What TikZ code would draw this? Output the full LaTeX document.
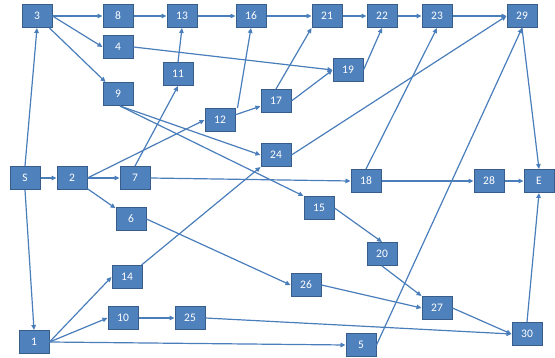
\documentclass[tikz,border=0pt]{standalone}
\usepackage{fontspec}
\setmainfont{Carlito}
\usetikzlibrary{arrows.meta}
\definecolor{boxfill}{HTML}{4F81BD}
\definecolor{boxline}{HTML}{385D8A}
\definecolor{edgecol}{HTML}{4A7EBB}
\begin{document}
\begin{tikzpicture}[x=1pt,y=-1pt,
  nb/.style={draw=boxline,line width=1pt,fill=boxfill,text=white,minimum width=30pt,minimum height=23pt,inner sep=0pt,font=\fontsize{11.5}{13}\selectfont},
  ar/.style={draw=edgecol,line width=1.2pt,-{Triangle[length=5pt,width=4.5pt]}}]
\useasboundingbox (0,0) rectangle (555,358);
\node[nb] (n3) at (37,16) {3};
\node[nb] (n8) at (118,16) {8};
\node[nb] (n13) at (182,16) {13};
\node[nb] (n16) at (251,16) {16};
\node[nb] (n21) at (327,16) {21};
\node[nb] (n22) at (382,16) {22};
\node[nb] (n23) at (437,16) {23};
\node[nb] (n29) at (522,16) {29};
\node[nb] (n4) at (118,47) {4};
\node[nb] (n11) at (178,74) {11};
\node[nb] (n19) at (348,70) {19};
\node[nb] (n9) at (118,94) {9};
\node[nb] (n17) at (276,101) {17};
\node[nb] (n12) at (220,120) {12};
\node[nb] (n24) at (276,155) {24};
\node[nb] (nS) at (25,178) {S};
\node[nb] (n2) at (72,178) {2};
\node[nb] (n7) at (135,178) {7};
\node[nb] (n18) at (366,181) {18};
\node[nb] (n28) at (489,181) {28};
\node[nb] (nE) at (539,181) {E};
\node[nb] (n15) at (319,208) {15};
\node[nb] (n6) at (131,219) {6};
\node[nb] (n20) at (382,254) {20};
\node[nb] (n14) at (127,277) {14};
\node[nb] (n26) at (306,285) {26};
\node[nb] (n27) at (437,308) {27};
\node[nb] (n10) at (123,318) {10};
\node[nb] (n25) at (190,318) {25};
\node[nb] (n30) at (527,334) {30};
\node[nb] (n1) at (34,342) {1};
\node[nb] (n5) at (361,345) {5};
% top chain
\draw[ar] (n3) -- (n8);
\draw[ar] (n8) -- (n13);
\draw[ar] (n13) -- (n16);
\draw[ar] (n16) -- (n21);
\draw[ar] (n21) -- (n22);
\draw[ar] (n22) -- (n23);
\draw[ar] (n23) -- (n29);
\draw[ar] (n29.south) -- (nE.north);
\draw[ar] (n3.east) -- (n4.west);
\draw[ar] (n3) -- (n9);
\draw[ar] (nS.north) -- (n3.south);
\draw[ar] (n4.east) -- (n19.west);
\draw[ar] (n11.north) -- (n13.south);
\draw[ar] ([xshift=2pt]n12.north east) -- (n16.south);
\draw[ar] (n12) -- (n17);
\draw[ar] (n17.north) -- (n21.south west);
\draw[ar] (n17.east) -- (n19.west);
\draw[ar] (n19.east) -- (n22.south);
\draw[ar] ([xshift=2pt]n9.south) -- (n24.west);
\draw[ar] ([xshift=2pt]n9.south) -- (n15.north west);
\draw[ar] (n24.east) -- (n29.west);
\draw[ar] (n18.north) -- (n23.south);
\draw[ar] (n5.east) -- (n29.south);
% middle
\draw[ar] (nS) -- (n2);
\draw[ar] (n2) -- (n7);
\draw[ar] (n2.east) -- (n12.west);
\draw[ar] (n2) -- (n6);
\draw[ar] (n7.north) -- (n11.south);
\draw[ar] (n7.east) -- (n18.west);
\draw[ar] (n18) -- (n28);
\draw[ar] (n28) -- (nE);
\draw[ar] (n14) -- (n24.south west);
\draw[ar] (n6.east) -- (n26.west);
\draw[ar] (n26.east) -- (n27.west);
\draw[ar] (n15.east) -- (n20.north);
\draw[ar] (n20.south) -- (n27.north west);
\draw[ar] (n27.east) -- (n30.west);
\draw[ar] (n30.north) -- (nE.south);
% bottom
\draw[ar] (nS.south) -- (n1.north);
\draw[ar] (n1.east) -- (n14.west);
\draw[ar] (n1.east) -- (n10.west);
\draw[ar] (n1.east) -- (n5.west);
\draw[ar] (n10) -- (n25);
\draw[ar] (n25.east) -- (n30.west);
\end{tikzpicture}
\end{document}
